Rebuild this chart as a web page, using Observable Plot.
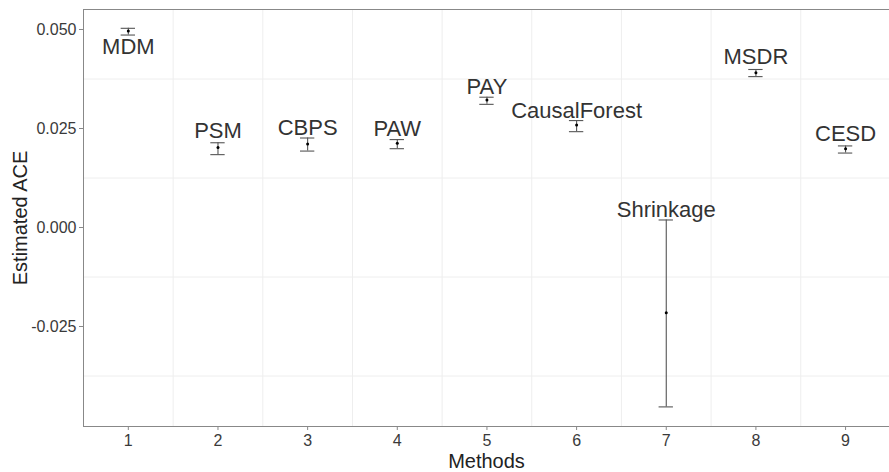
<!DOCTYPE html>
<html>
<head>
<meta charset="utf-8">
<script src="https://cdn.jsdelivr.net/npm/d3@7"></script>
<script src="https://cdn.jsdelivr.net/npm/@observablehq/plot@0.6"></script>
<style>
  html, body { margin: 0; padding: 0; background: white; }
</style>
</head>
<body>
<div id="chart"></div>
<script>
const methods = ["MDM", "PSM", "CBPS", "PAW", "PAY", "CausalForest", "Shrinkage", "MSDR", "CESD"];
const methodIndex = [1, 2, 3, 4, 5, 6, 7, 8, 9];
const estimate = [0.0496, 0.0202, 0.0211, 0.0213, 0.0322, 0.0259, -0.0215, 0.0391, 0.0199];
const lower    = [0.0486, 0.0184, 0.0193, 0.0199, 0.0311, 0.0242, -0.0453, 0.0381, 0.0188];
const upper    = [0.0503, 0.0214, 0.0226, 0.0222, 0.0329, 0.0270, 0.0019, 0.0399, 0.0206];
const labelY   = [0.0457, 0.0243, 0.0252, 0.0248, 0.0356, 0.0295, 0.0045, 0.0430, 0.0237];
const xTicks = [1, 2, 3, 4, 5, 6, 7, 8, 9];
const yTicks = [0.050, 0.025, 0.000, -0.025];
const xGrid = [1.5, 2.5, 3.5, 4.5, 5.5, 6.5, 7.5, 8.5];
const yGrid = [0.0375, 0.0125, -0.0125, -0.0375];

const data = methods.map((m, i) => ({
  method: m, x: methodIndex[i], estimate: estimate[i],
  lower: lower[i], upper: upper[i], labelY: labelY[i]
}));

const xDomain = [0.5, 9.49];
const yDomain = [-0.05025, 0.05505];
const capHalf = 0.08;

const chart = Plot.plot({
  width: 889,
  height: 472,
  marginLeft: 83,
  marginRight: 0,
  marginTop: 9,
  marginBottom: 46,
  x: {domain: xDomain},
  y: {domain: yDomain},
  style: {fontFamily: "'Liberation Sans', Arial, sans-serif", background: "white"},
  marks: [
    Plot.gridX(xGrid, {stroke: "#eeeeee", strokeOpacity: 1}),
    Plot.gridY(yGrid, {stroke: "#eeeeee", strokeOpacity: 1}),
    Plot.ruleX([xDomain[0]], {stroke: "#888"}),
    Plot.ruleY(yDomain, {stroke: "#888"}),
    Plot.axisY({ticks: yTicks, tickFormat: d => d.toFixed(3), tickSize: 4, tickPadding: 3,
      fontSize: 16, fill: "#3a3a3a", stroke: "#888", label: null}),
    Plot.axisX({ticks: xTicks, tickFormat: d => String(d), tickSize: 4, tickPadding: 4,
      fontSize: 16, fill: "#3a3a3a", stroke: "#888", label: null}),
    Plot.text(["Methods"], {text: d => d, frameAnchor: "bottom", dy: 35, lineAnchor: "middle", textAnchor: "middle", fontSize: 20, fill: "#222"}),
    Plot.text(["Estimated ACE"], {text: d => d, frameAnchor: "left", dx: -63, rotate: -90, lineAnchor: "middle", textAnchor: "middle", fontSize: 20, fill: "#222"}),
    Plot.text(data, {x: "x", y: "labelY", text: "method", fontSize: 22, fill: "#333"}),
    Plot.ruleX(data, {x: "x", y1: "lower", y2: "upper", stroke: "#555", strokeWidth: 1.1}),
    Plot.ruleY(data, {y: "lower", x1: d => d.x - capHalf, x2: d => d.x + capHalf, stroke: "#555", strokeWidth: 1.1}),
    Plot.ruleY(data, {y: "upper", x1: d => d.x - capHalf, x2: d => d.x + capHalf, stroke: "#555", strokeWidth: 1.1}),
    Plot.dot(data, {x: "x", y: "estimate", r: 1.5, fill: "black", stroke: null})
  ]
});
document.getElementById("chart").appendChild(chart);
</script>
</body>
</html>
